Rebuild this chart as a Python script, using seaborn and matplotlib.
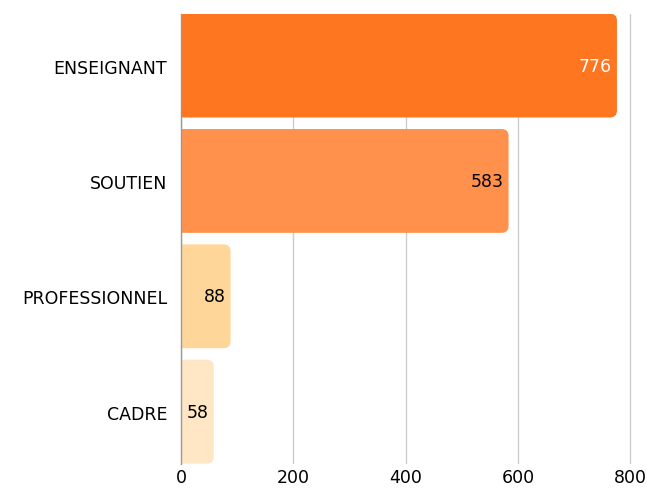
import pandas as pd
import seaborn as sns
import matplotlib.pyplot as plt
from matplotlib.patches import FancyBboxPatch

categories = ['ENSEIGNANT', 'SOUTIEN', 'PROFESSIONNEL', 'CADRE']
counts = [776, 583, 88, 58]
colours = ['#FF7620', '#FF914D', '#FFD699', '#FFE6C4']
label_colours = ['white', 'black', 'black', 'black']
x_ticks = [0, 200, 400, 600, 800]

df = pd.DataFrame({'categorie': categories, 'nombre': counts})

sns.set_style('white')
plt.rcParams['font.family'] = ['DejaVu Sans']

fig, ax = plt.subplots(figsize=(6.47, 4.89), dpi=100)
fig.subplots_adjust(left=0.28, right=0.977, top=0.97, bottom=0.05)

sns.barplot(data=df, x='nombre', y='categorie', hue='categorie', palette=colours,
            width=0.9, legend=False, ax=ax, zorder=2)

ax.set_xlim(0, 803)
ax.set_ylim(3.45, -0.45)

# replace the plain bars by bars with rounded right corners
x_per_px = 803 / (fig.get_figwidth() * fig.dpi * (0.977 - 0.28))
y_per_px = 3.9 / (fig.get_figheight() * fig.dpi * (0.97 - 0.05))
for patch, colour in zip(list(ax.patches), colours):
    x0, y0 = patch.get_x(), patch.get_y()
    w, h = patch.get_width(), patch.get_height()
    patch.set_visible(False)
    box = FancyBboxPatch((x0 - 20, y0), w + 20, h,
                         boxstyle=f'round,pad=0,rounding_size={7 * x_per_px}',
                         mutation_aspect=y_per_px / x_per_px,
                         facecolor=colour, edgecolor='none', zorder=2)
    ax.add_patch(box)

for i, (val, lc) in enumerate(zip(counts, label_colours)):
    ax.text(val - 5 * x_per_px, i, str(val), ha='right', va='center',
            color=lc, fontsize=12.5, zorder=3)

ax.set_xticks(x_ticks)
ax.grid(axis='x', color='#cccccc', linewidth=1, zorder=0)
ax.set_axisbelow(True)
for side in ['top', 'right', 'bottom']:
    ax.spines[side].set_visible(False)
ax.spines['left'].set_color('#999999')
ax.spines['left'].set_linewidth(1)
ax.tick_params(axis='both', length=0, labelsize=12.5, colors='black')
ax.tick_params(axis='y', pad=10)
ax.tick_params(axis='x', pad=3)
ax.set_xlabel('')
ax.set_ylabel('')

plt.savefig('out.png', dpi=100)
